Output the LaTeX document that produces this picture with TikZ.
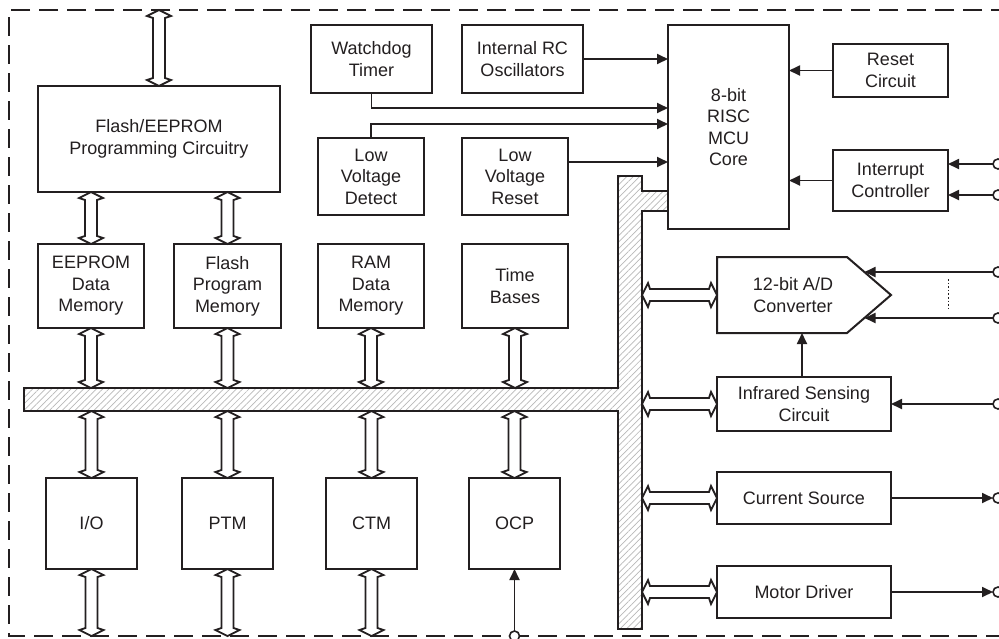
\documentclass[tikz,border=0pt]{standalone}
\usepackage{fontspec}
\setmainfont{Liberation Sans}
\usetikzlibrary{calc,arrows.meta,patterns.meta}
\definecolor{ink}{RGB}{35,31,32}
\newcommand\dblv[2]{\draw[dblarr] ($#1$) -- ($#1+(12,6)$) -- ($#1+(6,8)$) -- ($#2+(6,-8)$) -- ($#2+(12,-6)$) -- ($#2$) -- ($#2+(-12,-6)$) -- ($#2+(-6,-8)$) -- ($#1+(-6,8)$) -- ($#1+(-12,6)$) -- cycle;}
\newcommand\dblh[2]{\draw[dblarr] ($#1$) -- ($#1+(6,-12)$) -- ($#1+(8,-6)$) -- ($#2+(-8,-6)$) -- ($#2+(-6,-12)$) -- ($#2$) -- ($#2+(-6,12)$) -- ($#2+(-8,6)$) -- ($#1+(8,6)$) -- ($#1+(6,12)$) -- cycle;}
\tikzset{
  box/.style={draw=ink, line width=2pt, fill=white, inner sep=0pt, outer sep=0pt, align=center, text=ink,
    font=\fontsize{18}{21.5}\selectfont},
  txt/.style={inner sep=0pt, outer sep=0pt, align=center, text=ink, font=\fontsize{18}{21.5}\selectfont},
  dblarr/.style={draw=ink, line width=1.8pt, fill=white, line join=miter},
  sig/.style={draw=ink, line width=1.8pt, -{Triangle[length=11pt,width=10pt]}},
  pin/.style={circle, draw=ink, line width=1.6pt, fill=white, minimum size=10pt, inner sep=0pt, outer sep=0pt},
  border/.style={draw=ink, line width=1.8pt, dash pattern=on 19pt off 9pt},
  bus/.style={draw=ink, line width=2pt, pattern={Lines[angle=45,distance=4.5pt,line width=0.7pt]}, pattern color=gray!55},
}
\begin{document}
\begin{tikzpicture}[x=1pt,y=-1pt]
\useasboundingbox (0,0) rectangle (999,638);
% border
\draw[border] (1010,10) -- (9,10) -- (9,636) -- (1010,636);
% helper coordinates
\coordinate (top) at (0,10);
\coordinate (bot) at (0,636);
\coordinate (busT) at (0,388);
\coordinate (busB) at (0,411);
\coordinate (busR) at (642,0);
\coordinate (irx) at (802,0);
% bus
\fill[white] (24,388) -- (618,388) -- (618,176) -- (642,176) -- (642,191) -- (668,191) -- (668,211) -- (642,211) -- (642,629) -- (618,629) -- (618,411) -- (24,411) -- cycle;
\draw[bus] (24,388) -- (618,388) -- (618,176) -- (642,176) -- (642,191) -- (668,191) -- (668,211) -- (642,211) -- (642,629) -- (618,629) -- (618,411) -- (24,411) -- cycle;
% boxes
\node[box, minimum width=242pt, minimum height=106pt] (prog) at (159,139) {Flash/EEPROM\\Programming Circuitry};
\node[box, minimum width=106pt, minimum height=84pt] (eep) at (91,286) {EEPROM\\Data\\Memory};
\node[box, minimum width=107pt, minimum height=84pt] (fpm) at (227.5,286) {Flash\\Program\\Memory};
\node[box, minimum width=106pt, minimum height=84pt] (ram) at (371,286) {RAM\\Data\\Memory};
\node[box, minimum width=106pt, minimum height=84pt] (tb) at (515,286) {Time\\Bases};
\node[box, minimum width=121pt, minimum height=68pt] (wdt) at (371.5,59) {Watchdog\\Timer};
\node[box, minimum width=121pt, minimum height=68pt] (irc) at (522.5,59) {Internal RC\\Oscillators};
\node[box, minimum width=106pt, minimum height=77pt] (lvd) at (371,176.5) {Low\\Voltage\\Detect};
\node[box, minimum width=106pt, minimum height=77pt] (lvr) at (515,176.5) {Low\\Voltage\\Reset};
\node[box, minimum width=121pt, minimum height=204pt] (mcu) at (728.5,127) {8-bit\\RISC\\MCU\\Core};
\node[box, minimum width=115pt, minimum height=53pt] (rst) at (890.5,70.5) {Reset\\Circuit};
\node[box, minimum width=115pt, minimum height=61pt] (intc) at (890.5,180.5) {Interrupt\\Controller};
\node[box, minimum width=91pt, minimum height=91pt] (io) at (91.5,523.5) {I/O};
\node[box, minimum width=91pt, minimum height=91pt] (ptm) at (227.5,523.5) {PTM};
\node[box, minimum width=91pt, minimum height=91pt] (ctm) at (371.5,523.5) {CTM};
\node[box, minimum width=91pt, minimum height=91pt] (ocp) at (514.5,523.5) {OCP};
% A/D converter
\node[inner sep=0pt, outer sep=0pt, minimum width=130pt, minimum height=76pt] (ad) at (782,295) {};
\draw[draw=ink, line width=2pt, fill=white] (ad.north west) -- (ad.north east) -- ($(ad.east)+(44,0)$) -- (ad.south east) -- (ad.south west) -- cycle;
\node[txt] (adt) at (793,295) {12-bit A/D\\Converter};
\node[box, minimum width=174pt, minimum height=54pt] (ir) at (804,404) {Infrared Sensing\\Circuit};
\node[box, minimum width=174pt, minimum height=52pt] (cs) at (804,498) {Current Source};
\node[box, minimum width=174pt, minimum height=52pt] (md) at (804,592) {Motor Driver};
% pins
\node[pin] (p1) at (998,164) {};
\node[pin] (p2) at (998,195) {};
\node[pin] (p3) at (998,272) {};
\node[pin] (p4) at (998,318) {};
\node[pin] (p5) at (998,404) {};
\node[pin] (p6) at (998,498) {};
\node[pin] (p7) at (998,592) {};
% signal arrows into MCU
\coordinate (m1) at (668,108);
\coordinate (m2) at (668,124);
\coordinate (m3) at (668,162);
\draw[sig] (irc.east) -- (mcu.west |- irc.east);
\draw[sig] (wdt.south) |- (m1);
\draw[sig] (lvd.north) |- (m2);
\draw[sig] (lvr.east |- m3) -- (m3);
\draw[sig] (rst.west) -- (mcu.east |- rst.west);
\draw[sig] (intc.west) -- (mcu.east |- intc.west);
\draw[sig] (p1.west) -- (intc.east |- p1);
\draw[sig] (p2.west) -- (intc.east |- p2);
% A/D inputs
\coordinate (a1) at (864.5,272);
\coordinate (a2) at (864.5,318);
\draw[sig] (p3.west) -- (a1);
\draw[sig] (p4.west) -- (a2);
\draw[ink, line width=1pt, dash pattern=on 1.6pt off 2pt] (948,279) -- (948,311);
\draw[sig] (ir.north -| irx) -- (ad.south -| irx);
\draw[sig] (p5.west) -- (ir.east);
\draw[sig] (cs.east) -- (p6.west);
\draw[sig] (md.east) -- (p7.west);
% OCP input
\draw[sig] (ocp.south |- bot) -- (ocp.south);
\node[pin] (pb) at (514.5,636) {};
% double arrows
\dblv{(prog.north |- top)}{(prog.north)}
\dblv{(eep.north |- prog.south)}{(eep.north)}
\dblv{(fpm.north |- prog.south)}{(fpm.north)}
\dblv{(eep.south)}{(eep.south |- busT)}
\dblv{(fpm.south)}{(fpm.south |- busT)}
\dblv{(ram.south)}{(ram.south |- busT)}
\dblv{(tb.south)}{(tb.south |- busT)}
\dblv{(io.north |- busB)}{(io.north)}
\dblv{(ptm.north |- busB)}{(ptm.north)}
\dblv{(ctm.north |- busB)}{(ctm.north)}
\dblv{(ocp.north |- busB)}{(ocp.north)}
\dblv{(io.south)}{(io.south |- bot)}
\dblv{(ptm.south)}{(ptm.south |- bot)}
\dblv{(ctm.south)}{(ctm.south |- bot)}
\dblh{(busR |- ad.west)}{(ad.west)}
\dblh{(busR |- ir.west)}{(ir.west)}
\dblh{(busR |- cs.west)}{(cs.west)}
\dblh{(busR |- md.west)}{(md.west)}
\end{tikzpicture}
\end{document}
